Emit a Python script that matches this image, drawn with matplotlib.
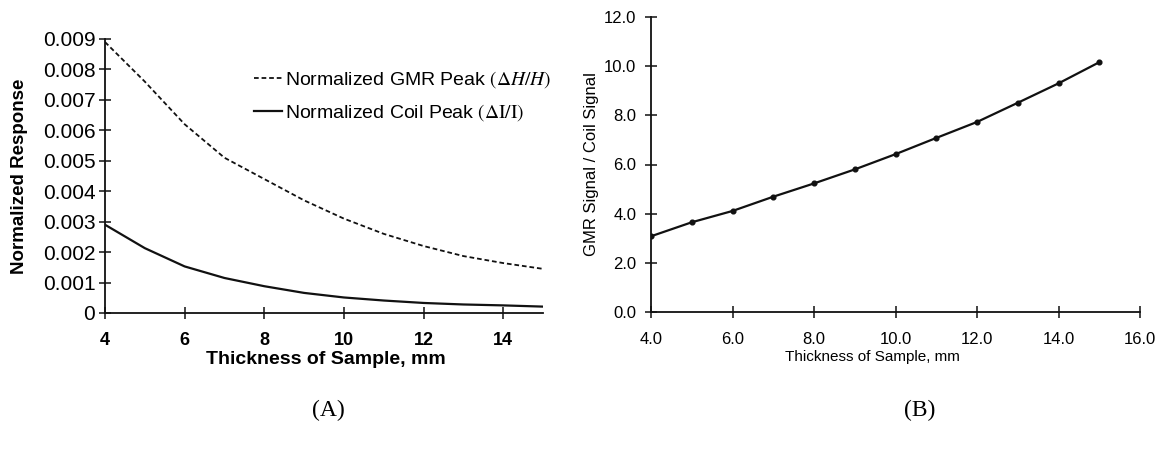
import matplotlib
matplotlib.use("Agg")
import matplotlib.pyplot as plt

plt.rcParams['font.family'] = ['Liberation Sans', 'DejaVu Sans']
plt.rcParams['mathtext.fontset'] = 'stix'

# ---- data ----
thickness = [4, 5, 6, 7, 8, 9, 10, 11, 12, 13, 14, 15]
gmr_peak = [0.0089, 0.0076, 0.0062, 0.0051, 0.0044, 0.0037, 0.0031,
            0.0026, 0.0022, 0.00187, 0.00164, 0.00145]
coil_peak = [0.0029, 0.00213, 0.00153, 0.00115, 0.00088, 0.00066, 0.00051,
             0.00041, 0.00033, 0.00028, 0.00025, 0.00021]
ratio = [3.08, 3.65, 4.11, 4.69, 5.23, 5.80, 6.42, 7.08, 7.73, 8.51, 9.30, 10.16]

left_yticks = [0, 0.001, 0.002, 0.003, 0.004, 0.005, 0.006, 0.007, 0.008, 0.009]
left_yticklabels = ['0', '0.001', '0.002', '0.003', '0.004', '0.005',
                    '0.006', '0.007', '0.008', '0.009']
left_xticks = [4, 6, 8, 10, 12, 14]
right_yticks = [0, 2, 4, 6, 8, 10, 12]
right_xticks = [4, 6, 8, 10, 12, 14, 16]

W, H = 1163, 450
fig = plt.figure(figsize=(W / 100, H / 100), dpi=100)

def box(x0, y0, x1, y1):
    return [x0 / W, 1 - y1 / H, (x1 - x0) / W, (y1 - y0) / H]

ink = '#111111'

# ---- panel A ----
ax1 = fig.add_axes(box(105, 39, 543, 313))
l1, = ax1.plot(thickness, gmr_peak, color=ink, lw=1.3, ls=(0, (2.6, 1.6)),
               label=r'Normalized GMR Peak $(\Delta H/H)$')
l2, = ax1.plot(thickness, coil_peak, color=ink, lw=1.6,
               label=r'Normalized Coil Peak $(\Delta \mathrm{I}/\mathrm{I})$')
ax1.set_xlim(4, 15)
ax1.set_ylim(0, 0.009)
ax1.set_xticks(left_xticks)
ax1.set_xticklabels([str(v) for v in left_xticks], fontsize=13, fontweight='bold')
ax1.set_yticks(left_yticks)
ax1.set_yticklabels(left_yticklabels, fontsize=15)
ax1.set_xlabel('Thickness of Sample, mm', fontsize=14, fontweight='bold')
ax1.xaxis.set_label_coords((326 - 105) / 438, -(351 - 313) / 274)
ax1.set_ylabel('Normalized Response', fontsize=13.5, fontweight='bold')
ax1.yaxis.set_label_coords(-(105 - 28) / 438, 0.5)
ax1.tick_params(axis='x', pad=9)
ax1.tick_params(axis='y', pad=2.5)
ax1.legend(handles=[l1, l2], loc='upper left',
           bbox_to_anchor=((254 - 105) / 438, (313 - 69) / 274),
           frameon=False, fontsize=14, handlelength=1.45, handletextpad=0.15,
           labelspacing=0.62, borderaxespad=0, borderpad=0)

# ---- panel B ----
ax2 = fig.add_axes(box(651, 17, 1140, 312))
ax2.plot(thickness, ratio, color=ink, lw=1.6, marker='o', ms=3.4)
ax2.set_xlim(4, 16)
ax2.set_ylim(0, 12)
ax2.set_xticks(right_xticks)
ax2.set_xticklabels([f'{v:.1f}' for v in right_xticks], fontsize=12)
ax2.set_yticks(right_yticks)
ax2.set_yticklabels([f'{v:.1f}' for v in right_yticks], fontsize=12)
ax2.set_xlabel('Thickness of Sample, mm', fontsize=11)
ax2.xaxis.set_label_coords((872 - 651) / 489, -(350 - 312) / 295)
ax2.set_ylabel('GMR Signal / Coil Signal', fontsize=12)
ax2.yaxis.set_label_coords(-(651 - 599) / 489, 0.5)
ax2.tick_params(axis='x', pad=10)
ax2.tick_params(axis='y', pad=6)

for ax in (ax1, ax2):
    ax.spines['top'].set_visible(False)
    ax.spines['right'].set_visible(False)
    for s in ('left', 'bottom'):
        ax.spines[s].set_linewidth(1.3)
        ax.spines[s].set_color(ink)
    ax.tick_params(direction='inout', length=9, width=1.1, colors=ink,
                   labelcolor='black')
    ax.set_facecolor('none')

fig.text(328 / W, 1 - 410 / H, '(A)', fontsize=17, ha='center', va='center',
         family=['Liberation Serif', 'DejaVu Serif'])
fig.text(920 / W, 1 - 410 / H, '(B)', fontsize=17, ha='center', va='center',
         family=['Liberation Serif', 'DejaVu Serif'])

fig.savefig('out.png', dpi=100, facecolor='white')
